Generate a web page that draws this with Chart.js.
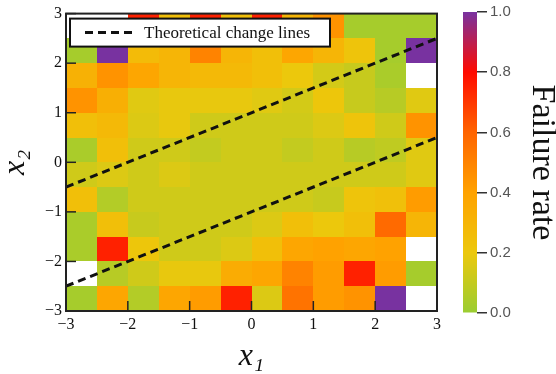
<!DOCTYPE html>
<html>
<head>
<meta charset="utf-8">
<script src="https://cdn.jsdelivr.net/npm/chart.js@4.4.0/dist/chart.umd.min.js"></script>
<style>
  html, body { margin: 0; padding: 0; background: #fff; }
  #wrap { position: relative; width: 556px; height: 374px; }
  #heatmap { position: absolute; left: 0; top: 0; }
  #colorbar { position: absolute; left: 455px; top: 0; }
</style>
</head>
<body>
<div id="wrap">
  <canvas id="heatmap" width="452" height="374"></canvas>
  <canvas id="colorbar" width="101" height="374"></canvas>
</div>
<script>
// cell centres along each axis
const x1Centers = [-2.75, -2.25, -1.75, -1.25, -0.75, -0.25, 0.25, 0.75, 1.25, 1.75, 2.25, 2.75];
const x2Centers = [2.75, 2.25, 1.75, 1.25, 0.75, 0.25, -0.25, -0.75, -1.25, -1.75, -2.25, -2.75];
const binWidth = 0.5;

// failure rate per cell, one row per x2 centre (top row first), null = no data
const failureRate = [
  [null, null, 0.75, 0.25, 0.75, 0.25, 0.75, 0.30, 0.45, 0.03, 0.03, 0.03],
  [0.03, 1.00, 0.27, 0.30, 0.50, 0.30, 0.25, 0.38, 0.30, 0.22, 0.03, 1.00],
  [0.32, 0.45, 0.38, 0.30, 0.28, 0.28, 0.25, 0.20, 0.14, 0.11, 0.04, null],
  [0.45, 0.33, 0.17, 0.19, 0.19, 0.19, 0.17, 0.14, 0.21, 0.11, 0.07, 0.17],
  [0.25, 0.28, 0.16, 0.19, 0.13, 0.13, 0.13, 0.13, 0.16, 0.22, 0.13, 0.45],
  [0.04, 0.25, 0.13, 0.13, 0.10, 0.13, 0.13, 0.10, 0.13, 0.07, 0.09, 0.17],
  [0.13, 0.16, 0.13, 0.16, 0.13, 0.13, 0.13, 0.13, 0.13, 0.13, 0.13, 0.17],
  [0.25, 0.06, 0.13, 0.13, 0.13, 0.13, 0.13, 0.13, 0.11, 0.22, 0.24, 0.42],
  [0.04, 0.25, 0.11, 0.13, 0.13, 0.13, 0.16, 0.25, 0.20, 0.25, 0.58, 0.30],
  [0.04, 0.75, 0.21, 0.13, 0.13, 0.16, 0.25, 0.38, 0.40, 0.38, 0.40, null],
  [null, 0.07, 0.13, 0.19, 0.19, 0.35, 0.38, 0.50, 0.42, 0.75, 0.42, 0.03],
  [0.03, 0.38, 0.06, 0.38, 0.42, 0.75, 0.16, 0.55, 0.42, 0.45, 1.00, null]
];

// theoretical change lines (end points)
const lineX1 = [-3, 3];
const upperLineX2 = [-0.5, 2.5];
const lowerLineX2 = [-2.5, 0.5];

const axisTicks = [-3, -2, -1, 0, 1, 2, 3];
const colorTicks = [0, 0.2, 0.4, 0.6, 0.8, 1.0];

// colormap: green -> yellow -> orange -> red -> purple
const cmapStops = [
  [0.0, [154, 205, 50]],
  [0.2, [236, 200, 12]],
  [0.4, [255, 162, 0]],
  [0.6, [255, 100, 0]],
  [0.8, [255, 10, 0]],
  [1.0, [120, 50, 160]]
];

const serif = "'Liberation Serif', 'Times New Roman', serif";

function rateColor(v) {
  for (let i = 1; i < cmapStops.length; i++) {
    const [p1, c1] = cmapStops[i];
    const [p0, c0] = cmapStops[i - 1];
    if (v <= p1) {
      const t = (v - p0) / (p1 - p0);
      const c = c0.map((a, k) => Math.round(a + (c1[k] - a) * t));
      return `rgb(${c[0]},${c[1]},${c[2]})`;
    }
  }
  const c = cmapStops[cmapStops.length - 1][1];
  return `rgb(${c[0]},${c[1]},${c[2]})`;
}

function minusFmt(v) {
  return v < 0 ? "\u2212" + Math.abs(v) : String(v);
}

// heatmap cells, placed with the chart's own scales
const cellsPlugin = {
  id: "cells",
  beforeDatasetsDraw(chart) {
    const { ctx, scales: { x, y } } = chart;
    ctx.save();
    failureRate.forEach((row, i) => {
      row.forEach((v, j) => {
        if (v === null) return;
        const l = Math.round(x.getPixelForValue(x1Centers[j] - binWidth / 2));
        const r = Math.round(x.getPixelForValue(x1Centers[j] + binWidth / 2));
        const t = Math.round(y.getPixelForValue(x2Centers[i] + binWidth / 2));
        const b = Math.round(y.getPixelForValue(x2Centers[i] - binWidth / 2));
        ctx.fillStyle = rateColor(v);
        ctx.fillRect(l, t, r - l, b - t);
      });
    });
    ctx.restore();
  }
};

// frame, inward tick marks and the boxed legend
const framePlugin = {
  id: "frame",
  afterDraw(chart) {
    const { ctx, chartArea: a, scales: { x, y } } = chart;
    ctx.save();
    ctx.strokeStyle = "#222";
    ctx.lineWidth = 1.5;
    x.ticks.forEach(t => {
      const px = x.getPixelForValue(t.value);
      ctx.beginPath();
      ctx.moveTo(px, a.bottom);
      ctx.lineTo(px, a.bottom - 10);
      ctx.stroke();
    });
    y.ticks.forEach(t => {
      const py = y.getPixelForValue(t.value);
      ctx.beginPath();
      ctx.moveTo(a.left, py);
      ctx.lineTo(a.left + 10, py);
      ctx.stroke();
    });
    ctx.lineWidth = 2;
    ctx.strokeRect(a.left, a.top, a.right - a.left, a.bottom - a.top);

    // legend
    const ds = chart.data.datasets[0];
    const lx = a.left + 4, ly = a.top + 5, lw = 260, lh = 28;
    ctx.fillStyle = "#fff";
    ctx.fillRect(lx, ly, lw, lh);
    ctx.strokeStyle = "#111";
    ctx.lineWidth = 2;
    ctx.strokeRect(lx, ly, lw, lh);
    ctx.beginPath();
    ctx.setLineDash(ds.borderDash);
    ctx.lineWidth = ds.borderWidth;
    ctx.strokeStyle = ds.borderColor;
    ctx.moveTo(lx + 15, ly + lh / 2);
    ctx.lineTo(lx + 64, ly + lh / 2);
    ctx.stroke();
    ctx.setLineDash([]);
    ctx.fillStyle = "#111";
    ctx.font = "17px " + serif;
    ctx.textBaseline = "middle";
    ctx.fillText(ds.label, lx + 74, ly + lh / 2 + 1);
    ctx.restore();
  }
};

new Chart(document.getElementById("heatmap"), {
  type: "scatter",
  data: {
    datasets: [
      {
        label: "Theoretical change lines",
        data: lineX1.map((v, i) => ({ x: v, y: upperLineX2[i] })),
        showLine: true,
        borderColor: "#111",
        borderWidth: 3,
        borderDash: [8, 5],
        pointRadius: 0
      },
      {
        label: "lower",
        data: lineX1.map((v, i) => ({ x: v, y: lowerLineX2[i] })),
        showLine: true,
        borderColor: "#111",
        borderWidth: 3,
        borderDash: [8, 5],
        pointRadius: 0
      }
    ]
  },
  options: {
    responsive: false,
    animation: false,
    layout: { padding: { top: 10, right: 15, left: 0, bottom: 0 } },
    plugins: { legend: { display: false }, tooltip: { enabled: false } },
    scales: {
      x: {
        type: "linear",
        min: -3,
        max: 3,
        afterBuildTicks: s => { s.ticks = axisTicks.map(v => ({ value: v })); },
        ticks: { callback: minusFmt, color: "#111", font: { family: serif, size: 16 }, padding: 4, maxRotation: 0 },
        grid: { display: false, drawTicks: false },
        border: { display: false },
        title: { display: true, text: "x\u2081", color: "#111", padding: 0,
                 font: { family: serif, size: 32, style: "italic", lineHeight: 1.1 } },
        afterFit: s => { s.height = 63; }
      },
      y: {
        type: "linear",
        min: -3,
        max: 3,
        afterBuildTicks: s => { s.ticks = axisTicks.map(v => ({ value: v })); },
        ticks: { callback: minusFmt, color: "#111", font: { family: serif, size: 16 }, padding: 4 },
        grid: { display: false, drawTicks: false },
        border: { display: false },
        title: { display: true, text: "x\u2082", color: "#111", padding: 0,
                 font: { family: serif, size: 32, style: "italic", lineHeight: 1 } },
        afterFit: s => { s.width = 66; }
      }
    }
  },
  plugins: [cellsPlugin, framePlugin]
});

// colour bar
new Chart(document.getElementById("colorbar"), {
  type: "bar",
  data: {
    labels: ["Failure rate"],
    datasets: [{
      data: [[0, 1]],
      backgroundColor: c => {
        const a = c.chart.chartArea;
        if (!a) return null;
        const g = c.chart.ctx.createLinearGradient(0, a.bottom, 0, a.top);
        cmapStops.forEach(([p, rgb]) => g.addColorStop(p, `rgb(${rgb[0]},${rgb[1]},${rgb[2]})`));
        return g;
      },
      borderWidth: 0,
      barPercentage: 1,
      categoryPercentage: 1
    }]
  },
  options: {
    responsive: false,
    animation: false,
    layout: { padding: { left: 8, top: 12, bottom: 61, right: 0 } },
    plugins: { legend: { display: false }, tooltip: { enabled: false } },
    scales: {
      x: { display: false },
      y: {
        position: "right",
        min: 0,
        max: 1,
        afterBuildTicks: s => { s.ticks = colorTicks.map(v => ({ value: v })); },
        ticks: { callback: v => v.toFixed(1), color: "#555", font: { family: "'Liberation Sans', Arial, sans-serif", size: 15 }, padding: 3 },
        grid: { drawOnChartArea: false, drawTicks: true, tickLength: 10, color: "#333", lineWidth: 1.5 },
        border: { display: false },
        title: { display: true, text: "Failure rate", color: "#111", padding: 0,
                 font: { family: serif, size: 34, lineHeight: 0.85 } },
        afterFit: s => { s.width = 79; }
      }
    }
  }
});
</script>
</body>
</html>
